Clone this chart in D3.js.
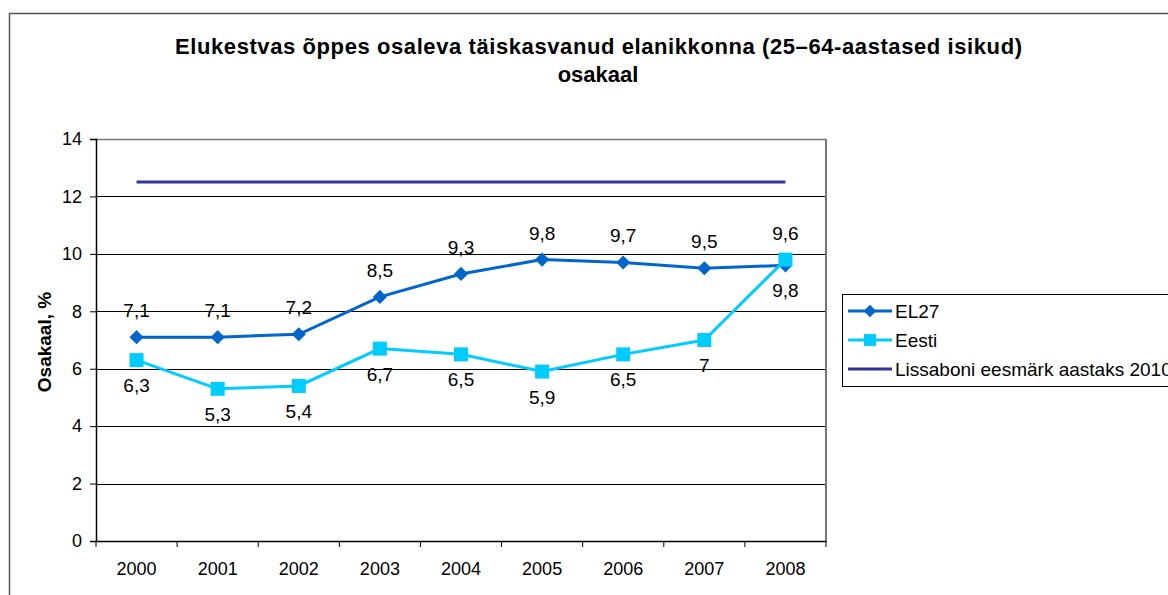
<!DOCTYPE html>
<html>
<head>
<meta charset="utf-8">
<script src="https://cdn.jsdelivr.net/npm/d3@7"></script>
<style>
  body { margin: 0; background: #fff; }
  text { font-family: "Liberation Sans", Arial, sans-serif; fill: #000; }
</style>
</head>
<body>
<script>
// chart data
let years = ["2000", "2001", "2002", "2003", "2004", "2005", "2006", "2007", "2008"];
let el27 = [7.1, 7.1, 7.2, 8.5, 9.3, 9.8, 9.7, 9.5, 9.6];
let eesti = [6.3, 5.3, 5.4, 6.7, 6.5, 5.9, 6.5, 7, 9.8];
let lissabon = [12.5, 12.5, 12.5, 12.5, 12.5, 12.5, 12.5, 12.5, 12.5];
let yTicks = [0, 2, 4, 6, 8, 10, 12, 14];
let seriesNames = ["EL27", "Eesti", "Lissaboni eesmärk aastaks 2010"];

let width = 1168, height = 595;
let plot = { left: 96, right: 826, top: 139, bottom: 541 };

let svg = d3.select("body").append("svg")
    .attr("width", width)
    .attr("height", height);

// outer chart frame
svg.append("rect")
    .attr("x", 9.5).attr("y", 13.5)
    .attr("width", 1170).attr("height", 600)
    .attr("fill", "#fff")
    .attr("stroke", "#555").attr("stroke-width", 1.5);

// title
let title = svg.append("text")
    .style("font-weight", "bold")
    .style("font-size", "22px");
title.append("tspan").attr("x", 175).attr("y", 54)
    .attr("textLength", 847).attr("lengthAdjust", "spacing")
    .text("Elukestvas õppes osaleva täiskasvanud elanikkonna (25–64-aastased isikud)");
title.append("tspan").attr("x", 598).attr("y", 82)
    .attr("text-anchor", "middle")
    .text("osakaal");

let x = d3.scaleBand().domain(years).range([plot.left, plot.right]);
let y = d3.scaleLinear().domain([0, 14]).range([plot.bottom, plot.top]);
let cx = d => x(d) + x.bandwidth() / 2;

// gridlines
svg.append("g").selectAll("line")
    .data(yTicks.filter(t => t > 0))
    .enter().append("line")
    .attr("x1", plot.left).attr("x2", plot.right)
    .attr("y1", d => Math.round(y(d)) + 0.5).attr("y2", d => Math.round(y(d)) + 0.5)
    .attr("stroke", "#000").attr("stroke-width", 1);

// plot border right/top
svg.append("line")
    .attr("x1", plot.right).attr("x2", plot.right)
    .attr("y1", plot.top).attr("y2", plot.bottom)
    .attr("stroke", "#777").attr("stroke-width", 2);
svg.append("line")
    .attr("x1", plot.left).attr("x2", plot.right)
    .attr("y1", plot.top + 0.5).attr("y2", plot.top + 0.5)
    .attr("stroke", "#777").attr("stroke-width", 1.5);

// y axis
let yAxis = svg.append("g")
    .attr("transform", `translate(${plot.left},0)`)
    .call(d3.axisLeft(y).tickValues(yTicks).tickSize(6).tickPadding(8).tickFormat(d3.format("d")));
yAxis.select(".domain").attr("stroke", "#000").attr("stroke-width", 1.5);
yAxis.selectAll(".tick line").attr("stroke", "#000");
yAxis.selectAll("text").style("font-size", "18px").attr("fill", "#000");

// x axis
let xAxis = svg.append("g")
    .attr("transform", `translate(0,${plot.bottom})`)
    .call(d3.axisBottom(x).tickSize(0).tickPadding(21));
xAxis.select(".domain").attr("stroke", "#000").attr("stroke-width", 1.5);
xAxis.selectAll("text").style("font-size", "18px").attr("fill", "#000");
svg.append("g").selectAll("line")
    .data(d3.range(years.length + 1))
    .enter().append("line")
    .attr("x1", i => plot.left + i * x.bandwidth()).attr("x2", i => plot.left + i * x.bandwidth())
    .attr("y1", plot.bottom).attr("y2", plot.bottom + 6)
    .attr("stroke", "#000");

// y axis title
svg.append("text")
    .attr("transform", "translate(51,342) rotate(-90)")
    .attr("text-anchor", "middle")
    .style("font-weight", "bold")
    .style("font-size", "19px")
    .text("Osakaal, %");

let line = d3.line().x((d, i) => cx(years[i])).y(d => y(d));

// target line
svg.append("path").datum(lissabon)
    .attr("d", line).attr("fill", "none")
    .attr("stroke", "#333399").attr("stroke-width", 3);

// EL27
svg.append("path").datum(el27)
    .attr("d", line).attr("fill", "none")
    .attr("stroke", "#0066CC").attr("stroke-width", 3);
svg.append("g").selectAll("path")
    .data(el27).enter().append("path")
    .attr("d", d3.symbol(d3.symbolDiamond2, 128))
    .attr("transform", (d, i) => `translate(${cx(years[i])},${y(d)})`)
    .attr("fill", "#0066CC");

// Eesti
svg.append("path").datum(eesti)
    .attr("d", line).attr("fill", "none")
    .attr("stroke", "#00CCFF").attr("stroke-width", 3);
svg.append("g").selectAll("rect")
    .data(eesti).enter().append("rect")
    .attr("x", (d, i) => cx(years[i]) - 7)
    .attr("y", d => y(d) - 7)
    .attr("width", 14).attr("height", 14)
    .attr("fill", "#00CCFF");

// data labels
let fmt = v => String(v).replace(".", ",");
svg.append("g").selectAll("text")
    .data(el27).enter().append("text")
    .attr("x", (d, i) => cx(years[i]))
    .attr("y", (d, i) => (i === 8 ? y(eesti[i]) : y(d)) - 20)
    .attr("text-anchor", "middle")
    .style("font-size", "19px")
    .text(d => fmt(d));
svg.append("g").selectAll("text")
    .data(eesti).enter().append("text")
    .attr("x", (d, i) => cx(years[i]))
    .attr("y", (d, i) => (i === 8 ? y(el27[i]) : y(d)) + 32)
    .attr("text-anchor", "middle")
    .style("font-size", "19px")
    .text(d => fmt(d));

// legend
let legend = svg.append("g").attr("transform", "translate(842,294)");
legend.append("rect")
    .attr("x", 0.5).attr("y", 0.5).attr("width", 400).attr("height", 92)
    .attr("fill", "#fff").attr("stroke", "#000");
let legendColors = ["#0066CC", "#00CCFF", "#333399"];
seriesNames.forEach((name, i) => {
    let ly = 17 + i * 29;
    legend.append("line")
        .attr("x1", 6).attr("x2", 50).attr("y1", ly).attr("y2", ly)
        .attr("stroke", legendColors[i]).attr("stroke-width", 3);
    if (i === 0) {
        legend.append("path")
            .attr("d", d3.symbol(d3.symbolDiamond2, 98))
            .attr("transform", `translate(28,${ly})`)
            .attr("fill", legendColors[i]);
    } else if (i === 1) {
        legend.append("rect")
            .attr("x", 22).attr("y", ly - 6).attr("width", 12).attr("height", 12)
            .attr("fill", legendColors[i]);
    }
    legend.append("text")
        .attr("x", 53).attr("y", ly + 7)
        .style("font-size", "19px")
        .text(name);
});
</script>
</body>
</html>
